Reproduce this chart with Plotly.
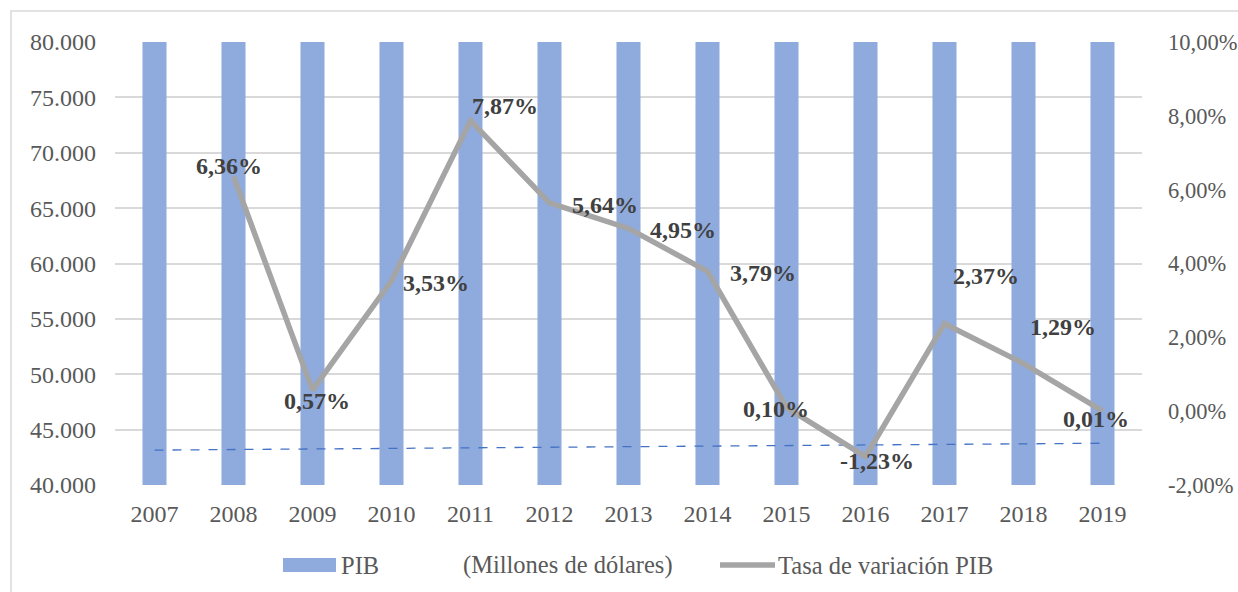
import plotly.graph_objects as go

years = [str(y) for y in range(2007, 2020)]
# PIB bars: every bar runs past the 80.000 axis limit in the reference
pib = [80000] * 13
tasa_years = years[1:]
tasa = [6.36, 0.57, 3.53, 7.87, 5.64, 4.95, 3.79, 0.10, -1.23, 2.37, 1.29, 0.01]
trend_years = ["2007", "2019"]
trend = [43150, 43770]
y2_ticks = [-2, 0, 2, 4, 6, 8, 10]

# label offsets (px) relative to each point
label_shift = [(-5, 10), (4, -11), (44, -2), (34, 15), (55, -2), (54, -2), (55, -2),
               (-11, -2), (11, -4), (41, 48), (39, 37), (-7, -8)]

W, H = 1238, 592
L, R, T, B = 115, 1142, 42, 485
def px(x):
    return (x - L) / (R - L)
def py(y):
    return (B - y) / (B - T)

serif = "Liberation Serif, Times New Roman, serif"
def fmt(v):
    return f"{v:.2f}".replace(".", ",") + "%"

fig = go.Figure()
fig.add_trace(go.Bar(x=years, y=pib, name="PIB (Millones de dólares)",
                     marker=dict(color="#8faadc", line=dict(width=0)), showlegend=False))
fig.add_trace(go.Scatter(x=trend_years, y=trend, mode="lines", showlegend=False,
                         line=dict(color="#4472c4", width=1.3, dash="dash")))
fig.add_trace(go.Scatter(x=tasa_years, y=tasa, yaxis="y2", mode="lines", showlegend=False,
                         name="Tasa de variación PIB",
                         line=dict(color="#a5a5a5", width=5.5)))

annotations = []
for yr, v, (dx, dy) in zip(tasa_years, tasa, label_shift):
    annotations.append(dict(x=years.index(yr), y=v, xref="x", yref="y2", xshift=dx, yshift=dy,
                            text="<b>" + fmt(v) + "</b>",
                            showarrow=False, font=dict(family=serif, size=24, color="#404040")))

# legend drawn by hand to match the wide swatches
for txt, x in [("PIB", 339), ("(Millones de dólares)", 461), ("Tasa de variación PIB", 776)]:
    annotations.append(dict(x=px(x), y=py(565), xref="paper", yref="paper", text=txt,
                            xanchor="left", yanchor="middle", showarrow=False,
                            font=dict(family=serif, size=24.5, color="#595959")))

shapes = [
    dict(type="rect", xref="paper", yref="paper", x0=px(11), x1=px(1260), y0=py(11), y1=py(620),
         line=dict(color="#d9d9d9", width=1.5), layer="below"),
    dict(type="rect", xref="paper", yref="paper", x0=px(283), x1=px(336), y0=py(558), y1=py(572),
         fillcolor="#8faadc", line=dict(width=0)),
    dict(type="line", xref="paper", yref="paper", x0=px(720), x1=px(775), y0=py(565), y1=py(565),
         line=dict(color="#a5a5a5", width=5.5)),
]

tick_font = dict(family=serif, size=24, color="#595959")
fig.update_layout(
    width=W, height=H,
    margin=dict(l=L, r=W - R, t=T, b=H - B),
    paper_bgcolor="white", plot_bgcolor="white",
    separators=",.",
    bargap=0.696,
    font=dict(family=serif, size=24, color="#595959"),
    xaxis=dict(type="category", range=[-0.5, 12.5], showgrid=False, ticks="", automargin=False,
               ticklabelstandoff=12, showline=False, tickfont=tick_font),
    yaxis=dict(range=[40000, 80000], dtick=5000, tickformat=",d", showgrid=True, automargin=False,
               gridcolor="#d9d9d9", gridwidth=1.5, zeroline=False, ticks="",
               ticklabelstandoff=18, tickfont=tick_font),
    yaxis2=dict(range=[-2, 10], tickvals=y2_ticks, ticktext=[fmt(v) for v in y2_ticks],
                overlaying="y", side="right", showgrid=False, zeroline=False, ticks="",
                automargin=False, ticklabelstandoff=25,
                tickfont=dict(family=serif, size=22.5, color="#595959")),
    annotations=annotations,
    shapes=shapes,
    showlegend=False,
)

# drop the default page margin so the figure sits at the window's corner
fig.write_html("out.html", config={"displayModeBar": False},
               post_script="document.body.style.margin='0';")
